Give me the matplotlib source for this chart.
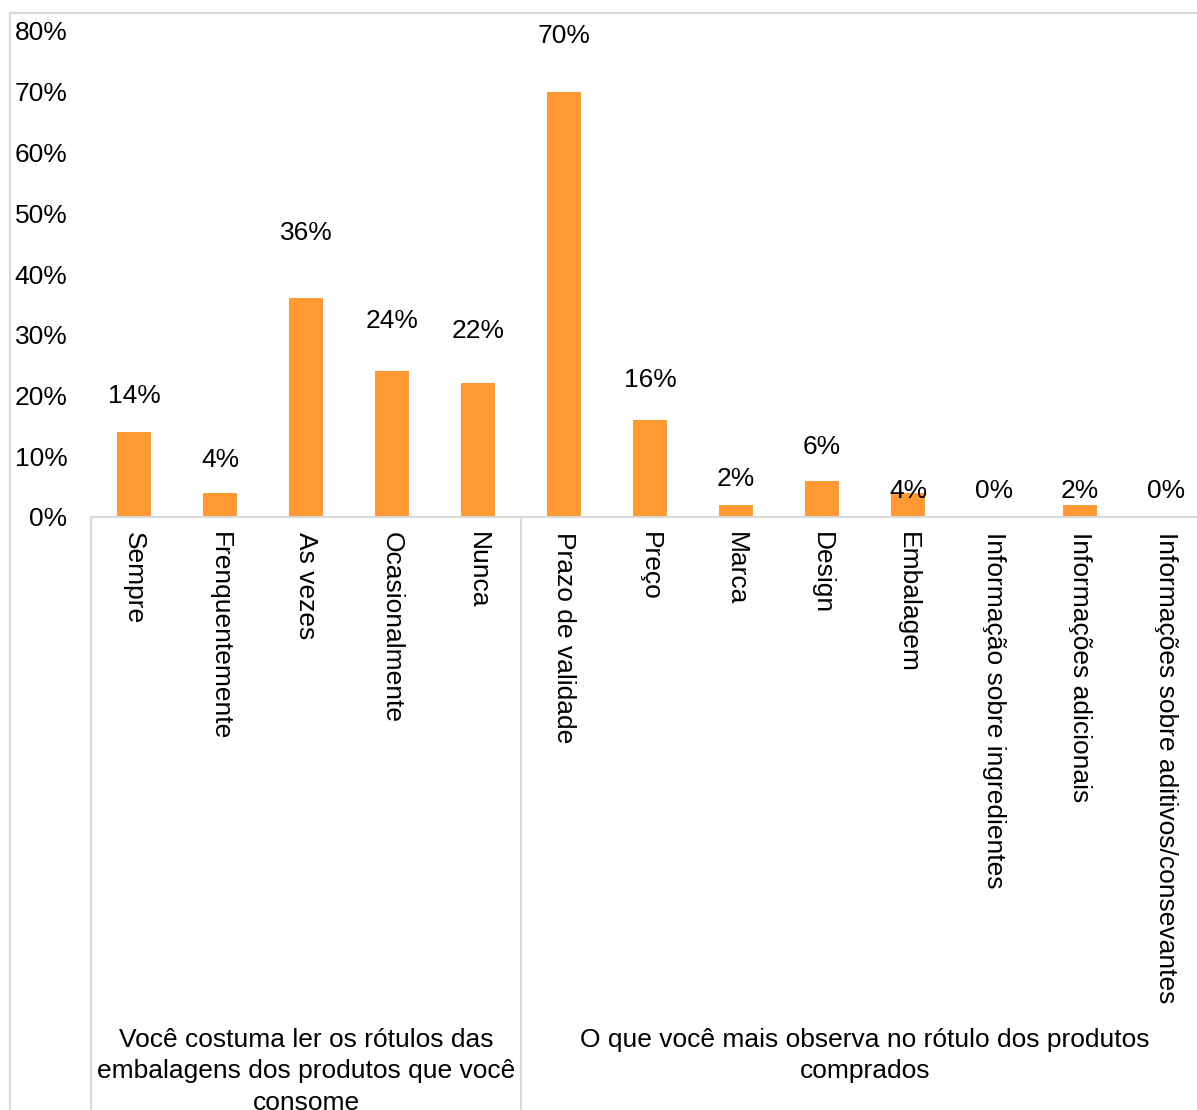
import matplotlib
matplotlib.use('Agg')
import matplotlib.pyplot as plt
import matplotlib.transforms as mtransforms
from matplotlib.patches import Rectangle

# Survey answers, two question blocks side by side
categories = ['Sempre', 'Frenquentemente', 'As vezes', 'Ocasionalmente', 'Nunca',
              'Prazo de validade', 'Preço', 'Marca', 'Design', 'Embalagem',
              'Informação sobre ingredientes', 'Informações adicionais',
              'Informações sobre aditivos/consevantes']
values = [0.14, 0.04, 0.36, 0.24, 0.22,
          0.70, 0.16, 0.02, 0.06, 0.04, 0.00, 0.02, 0.00]
groups = ['Você costuma ler os rótulos das\nembalagens dos produtos que você\nconsome',
          'O que você mais observa no rótulo dos produtos\ncomprados']
group_sizes = [5, 8]
yticks = [0.0, 0.1, 0.2, 0.3, 0.4, 0.5, 0.6, 0.7, 0.8]

# hand-placed heights of the value labels (axis units)
label_y = [0.199, 0.094, 0.468, 0.323, 0.306,
           0.792, 0.226, 0.063, 0.115, 0.043, 0.043, 0.043, 0.043]

plt.rcParams['font.family'] = ['Liberation Sans', 'DejaVu Sans']
fs = 19
bar_color = '#FF9933'
line_color = '#D9D9D9'

W, H = 1197, 1110
fig = plt.figure(figsize=(W / 100, H / 100), dpi=100)

# outer chart frame
fig.patches.append(Rectangle((10 / W, -0.1), 1.2, 1 - 13 / H + 0.1,
                             transform=fig.transFigure, fill=False,
                             edgecolor=line_color, linewidth=1.5))

ax = fig.add_axes([91 / W, (H - 517) / H, (1209 - 91) / W, 486 / H])
x = list(range(len(categories)))
ax.bar(x, values, width=0.4, color=bar_color)

for xi, v, ly in zip(x, values, label_y):
    ax.text(xi, ly, f'{v:.0%}', ha='center', va='center', fontsize=fs)

ax.set_xlim(-0.5, len(categories) - 0.5)
ax.set_ylim(0, 0.8)
ax.set_yticks(yticks)
ax.set_yticklabels([f'{t:.0%}' for t in yticks], fontsize=fs)
ax.tick_params(axis='y', length=0, pad=17)
ax.set_xticks(x)
ax.set_xticklabels(categories, rotation=270, fontsize=fs, va='top', ha='center')
ax.tick_params(axis='x', length=0, pad=11)

for side in ['top', 'right', 'left']:
    ax.spines[side].set_visible(False)
ax.spines['bottom'].set_color(line_color)
ax.spines['bottom'].set_linewidth(1.5)

# group separators and group captions below the category labels
trans = mtransforms.blended_transform_factory(ax.transData, ax.transAxes)
start = 0
bounds = [-0.5]
for name, n in zip(groups, group_sizes):
    end = start + n
    bounds.append(end - 0.5)
    ax.text((start + end - 1) / 2, -1.052, name, transform=trans,
            ha='center', va='top', fontsize=fs, linespacing=1.38)
    start = end
for b in bounds:
    ax.plot([b, b], [0, -1.5], transform=trans, color=line_color,
            linewidth=1.5, clip_on=False)

fig.savefig('out.png', dpi=100)
